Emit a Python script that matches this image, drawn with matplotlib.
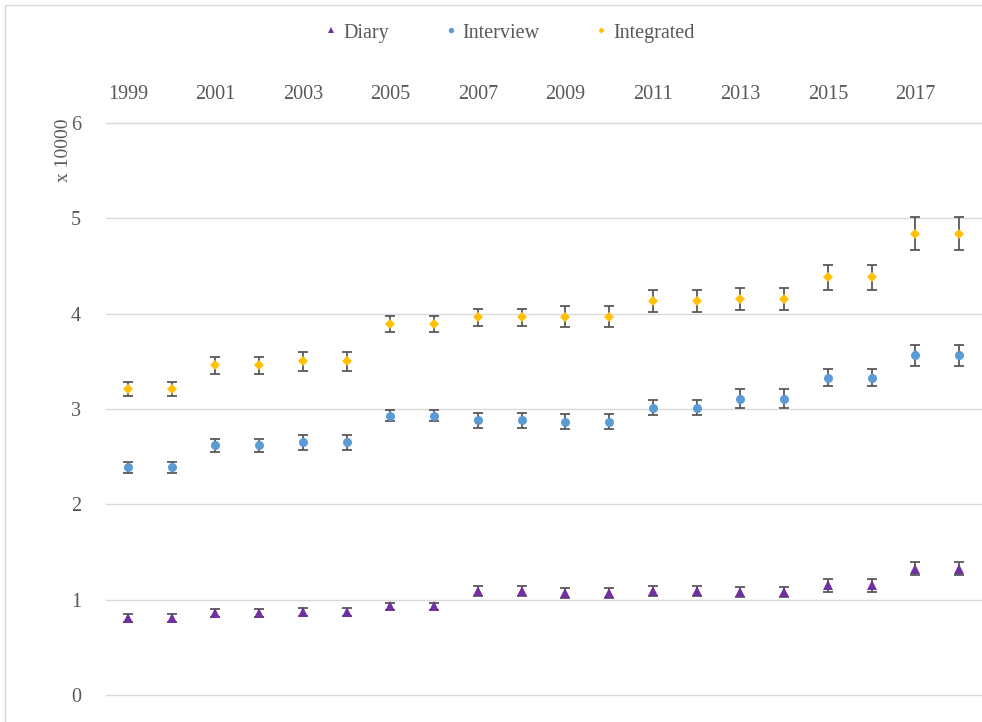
import numpy as np
import matplotlib.pyplot as plt
from matplotlib.patches import Rectangle

plt.rcParams['font.family'] = ['Liberation Serif', 'DejaVu Serif']

# 数据 (单位: x 10000)
years = list(range(1999, 2019))
tick_years = list(range(1999, 2019, 2))

diary = [0.81, 0.81, 0.86, 0.86, 0.87, 0.87, 0.93, 0.93, 1.09, 1.09,
         1.07, 1.07, 1.09, 1.09, 1.08, 1.08, 1.15, 1.15, 1.325, 1.325]
diary_err = [0.04, 0.04, 0.045, 0.045, 0.045, 0.045, 0.04, 0.04, 0.05, 0.05,
             0.05, 0.05, 0.055, 0.055, 0.05, 0.05, 0.07, 0.07, 0.066, 0.066]

interview = [2.39, 2.39, 2.62, 2.62, 2.65, 2.65, 2.93, 2.93, 2.88, 2.88,
             2.865, 2.865, 3.015, 3.015, 3.11, 3.11, 3.33, 3.33, 3.565, 3.565]
interview_err = [0.058, 0.058, 0.07, 0.07, 0.08, 0.08, 0.056, 0.056, 0.075, 0.075,
                 0.08, 0.08, 0.075, 0.075, 0.096, 0.096, 0.09, 0.09, 0.11, 0.11]

integrated = [3.21, 3.21, 3.46, 3.46, 3.50, 3.50, 3.89, 3.89, 3.96, 3.96,
              3.97, 3.97, 4.13, 4.13, 4.15, 4.15, 4.38, 4.38, 4.84, 4.84]
integrated_err = [0.077, 0.077, 0.09, 0.09, 0.10, 0.10, 0.087, 0.087, 0.09, 0.09,
                  0.11, 0.11, 0.114, 0.114, 0.114, 0.114, 0.128, 0.128, 0.17, 0.17]

text_c = '#595959'
grid_c = '#D9D9D9'
fs = 14.5

fig = plt.figure(figsize=(9.82, 7.22), dpi=100)
# 图表外框
fig.patches.append(Rectangle((5 / 982, -0.1), 1.2, (1 - 5 / 722) + 0.1,
                             transform=fig.transFigure, fill=False,
                             edgecolor=grid_c, linewidth=1.0))

ax = fig.add_axes([106 / 982, 1 - 695 / 722, 875 / 982, (695 - 123) / 722])

series = [
    ('Diary', diary, diary_err, '^', '#7030A0'),
    ('Interview', interview, interview_err, 'o', '#5B9BD5'),
    ('Integrated', integrated, integrated_err, 'D', '#FFC000'),
]
handles = []
for name, vals, errs, mk, col in series:
    ms = 6.5 if mk != 'D' else 5.2
    ax.errorbar(years, vals, yerr=errs, fmt='none', ecolor=text_c,
                elinewidth=1.3, capsize=3.5, capthick=1.3, zorder=2)
    h, = ax.plot(years, vals, linestyle='none', marker=mk, markersize=ms,
                 color=col, markeredgewidth=0, zorder=3, label=name)
    handles.append(h)

ax.set_xlim(1998.5, 2018.5)
ax.set_ylim(0, 6)
ax.set_yticks(range(0, 7))
ax.set_xticks(tick_years)
ax.xaxis.tick_top()
ax.tick_params(axis='x', length=0, pad=14, labelsize=fs, labelcolor=text_c)
ax.tick_params(axis='y', length=0, pad=18, labelsize=fs, labelcolor=text_c)
ax.grid(axis='y', color=grid_c, linewidth=1.0)
for gl in ax.yaxis.get_gridlines():
    gl.set_clip_on(False)
ax.set_axisbelow(True)
for s in ax.spines.values():
    s.set_visible(False)

fig.text(64 / 982, 1 - 150 / 722, 'x 10000', rotation=90, ha='center',
         va='center', fontsize=14, color=text_c)

fig.legend(handles=handles, loc='center', bbox_to_anchor=(510 / 982, 1 - 33 / 722),
           ncol=3, frameon=False, fontsize=fs, labelcolor=text_c,
           markerscale=0.6, handlelength=0.6, handletextpad=0.3, columnspacing=2.75)

fig.savefig('out.png', dpi=100)
